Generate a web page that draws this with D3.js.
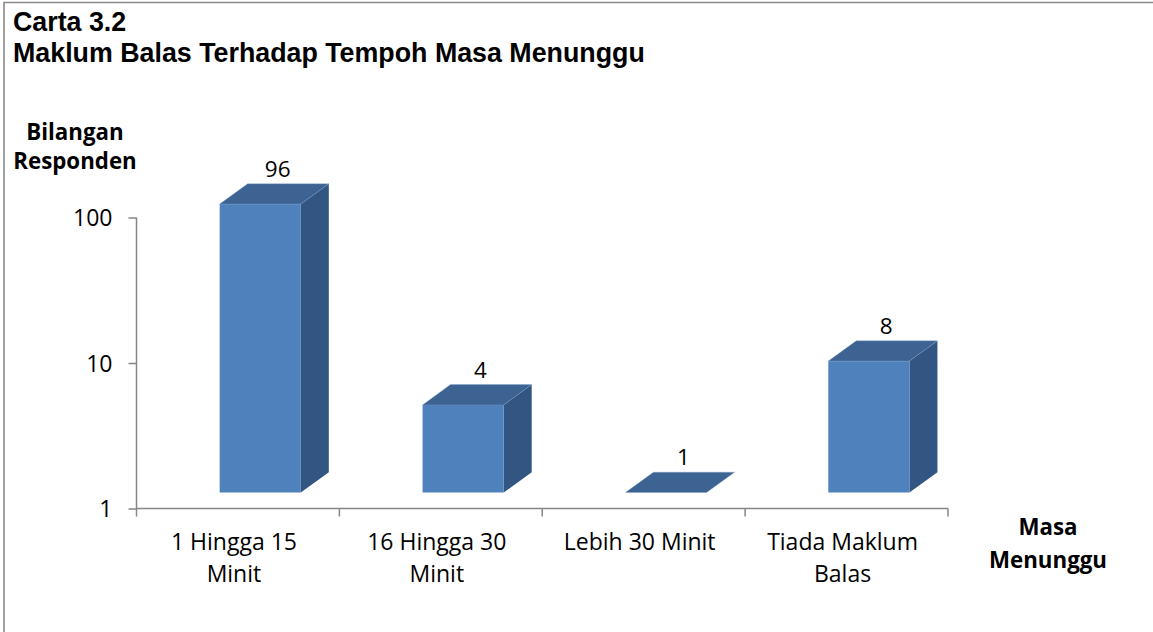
<!DOCTYPE html>
<html>
<head>
<meta charset="utf-8">
<script src="https://cdn.jsdelivr.net/npm/d3@7/dist/d3.min.js"></script>
<style>
  html, body { margin: 0; padding: 0; background: #fff; }
  svg { display: block; }
</style>
</head>
<body>
<svg id="chart" width="1153" height="632"></svg>
<script>
// ---- data ----
const categories = [["1 Hingga 15", "Minit"], ["16 Hingga 30", "Minit"], ["Lebih 30 Minit"], ["Tiada Maklum", "Balas"]];
const values = [96, 4, 1, 8];
const yTicks = [1, 10, 100];
const titleLines = ["Carta 3.2", "Maklum Balas Terhadap Tempoh Masa Menunggu"];
const yTitle = ["Bilangan", "Responden"];
const xTitle = ["Masa", "Menunggu"];

// ---- layout ----
const svg = d3.select("#chart");
const W = 1153, H = 632;
const plot = { left: 136.5, right: 948, top: 217.5, bottom: 508.5 };
const bodyFont = "'Open Sans', sans-serif";

// frame
svg.append("path")
  .attr("d", `M4,${H + 2} L4,2.5 L${W + 2},2.5`)
  .attr("fill", "none").attr("stroke", "#8a8a8a").attr("stroke-width", 1.6);

// title
svg.append("g").selectAll("text").data(titleLines).join("text")
  .attr("x", 13).attr("y", (d, i) => 31 + i * 30.7)
  .attr("font-family", "'Liberation Sans', Arial, sans-serif")
  .attr("font-weight", "bold").attr("font-size", 26.8).attr("fill", "#000")
  .text(d => d);

// scales
const keys = categories.map(c => c.join(" "));
const x = d3.scaleBand().domain(keys).range([plot.left, plot.right]).padding(0);
const y = d3.scaleLog().domain([1, 100]).range([plot.bottom, plot.top]);

const axisColor = "#868686";

// y axis
const yAxis = d3.axisLeft(y).tickValues(yTicks).tickFormat(d3.format("d")).tickSize(8).tickPadding(16);
const gy = svg.append("g").attr("transform", `translate(${plot.left},0)`).call(yAxis);
gy.select(".domain").attr("stroke", axisColor).attr("stroke-width", 1.5).attr("d", `M0,${plot.top}V${plot.bottom + 8}`);
gy.selectAll(".tick line").attr("stroke", axisColor).attr("stroke-width", 1.5);
gy.selectAll(".tick text").attr("font-family", bodyFont).attr("font-size", 23).attr("fill", "#000").attr("dy", "0.36em");

// x axis line + boundary ticks
const bounds = keys.map(k => x(k)).concat([plot.right]);
const gx = svg.append("g");
gx.append("line").attr("x1", plot.left).attr("x2", plot.right)
  .attr("y1", plot.bottom).attr("y2", plot.bottom)
  .attr("stroke", axisColor).attr("stroke-width", 1.5);
gx.selectAll("line.tk").data(bounds.slice(1)).join("line").attr("class", "tk")
  .attr("x1", d => d).attr("x2", d => d)
  .attr("y1", plot.bottom).attr("y2", plot.bottom + 8)
  .attr("stroke", axisColor).attr("stroke-width", 1.5);

// category labels
const catG = svg.append("g");
categories.forEach((lines, i) => {
  const cx = x(keys[i]) + x.bandwidth() / 2 - 4;
  catG.append("g").selectAll("text").data(lines).join("text")
    .attr("x", cx).attr("y", (d, j) => 550 + j * 32)
    .attr("text-anchor", "middle")
    .attr("font-family", bodyFont).attr("font-size", 23).attr("fill", "#000")
    .text(d => d);
});

// axis titles
svg.append("g").selectAll("text").data(yTitle).join("text")
  .attr("x", 75).attr("y", (d, i) => 139.5 + i * 29)
  .attr("text-anchor", "middle")
  .attr("font-family", bodyFont).attr("font-weight", "bold").attr("font-size", 22.3).attr("fill", "#000")
  .text(d => d);
svg.append("g").selectAll("text").data(xTitle).join("text")
  .attr("x", 1048).attr("y", (d, i) => 535 + i * 33)
  .attr("text-anchor", "middle")
  .attr("font-family", bodyFont).attr("font-weight", "bold").attr("font-size", 22.3).attr("fill", "#000")
  .text(d => d);

// 3D bars
const bw = x.bandwidth();
const faceW = bw * 0.4, faceOff = bw * 0.41;
const dx = bw * 0.138, dy = -20.3;
const lift = 16;
const cFront = "#4f81bd", cTop = "#3c6391", cSide = "#325581";

const bars = svg.append("g");
values.forEach((v, i) => {
  const x0 = x(keys[i]) + faceOff, x1 = x0 + faceW;
  const yt = y(v) - lift, yb = y(1) - lift;
  const g = bars.append("g");
  // side
  g.append("path")
    .attr("d", `M${x1},${yt} L${x1 + dx},${yt + dy} L${x1 + dx},${yb + dy} L${x1},${yb} Z`)
    .attr("fill", cSide);
  // front
  if (yb - yt > 0.5) {
    g.append("rect").attr("x", x0).attr("y", yt).attr("width", faceW).attr("height", yb - yt)
      .attr("fill", cFront);
  }
  // top
  g.append("path")
    .attr("d", `M${x0},${yt} L${x0 + dx},${yt + dy} L${x1 + dx},${yt + dy} L${x1},${yt} Z`)
    .attr("fill", cTop).attr("stroke", "#7f9fcf").attr("stroke-width", 0.6).attr("stroke-opacity", 0.6);
  // value label
  g.append("text")
    .attr("x", x0 + 58).attr("y", yt + dy - 7)
    .attr("text-anchor", "middle")
    .attr("font-family", bodyFont).attr("font-size", 22.5).attr("fill", "#000")
    .text(v);
});
</script>
</body>
</html>
